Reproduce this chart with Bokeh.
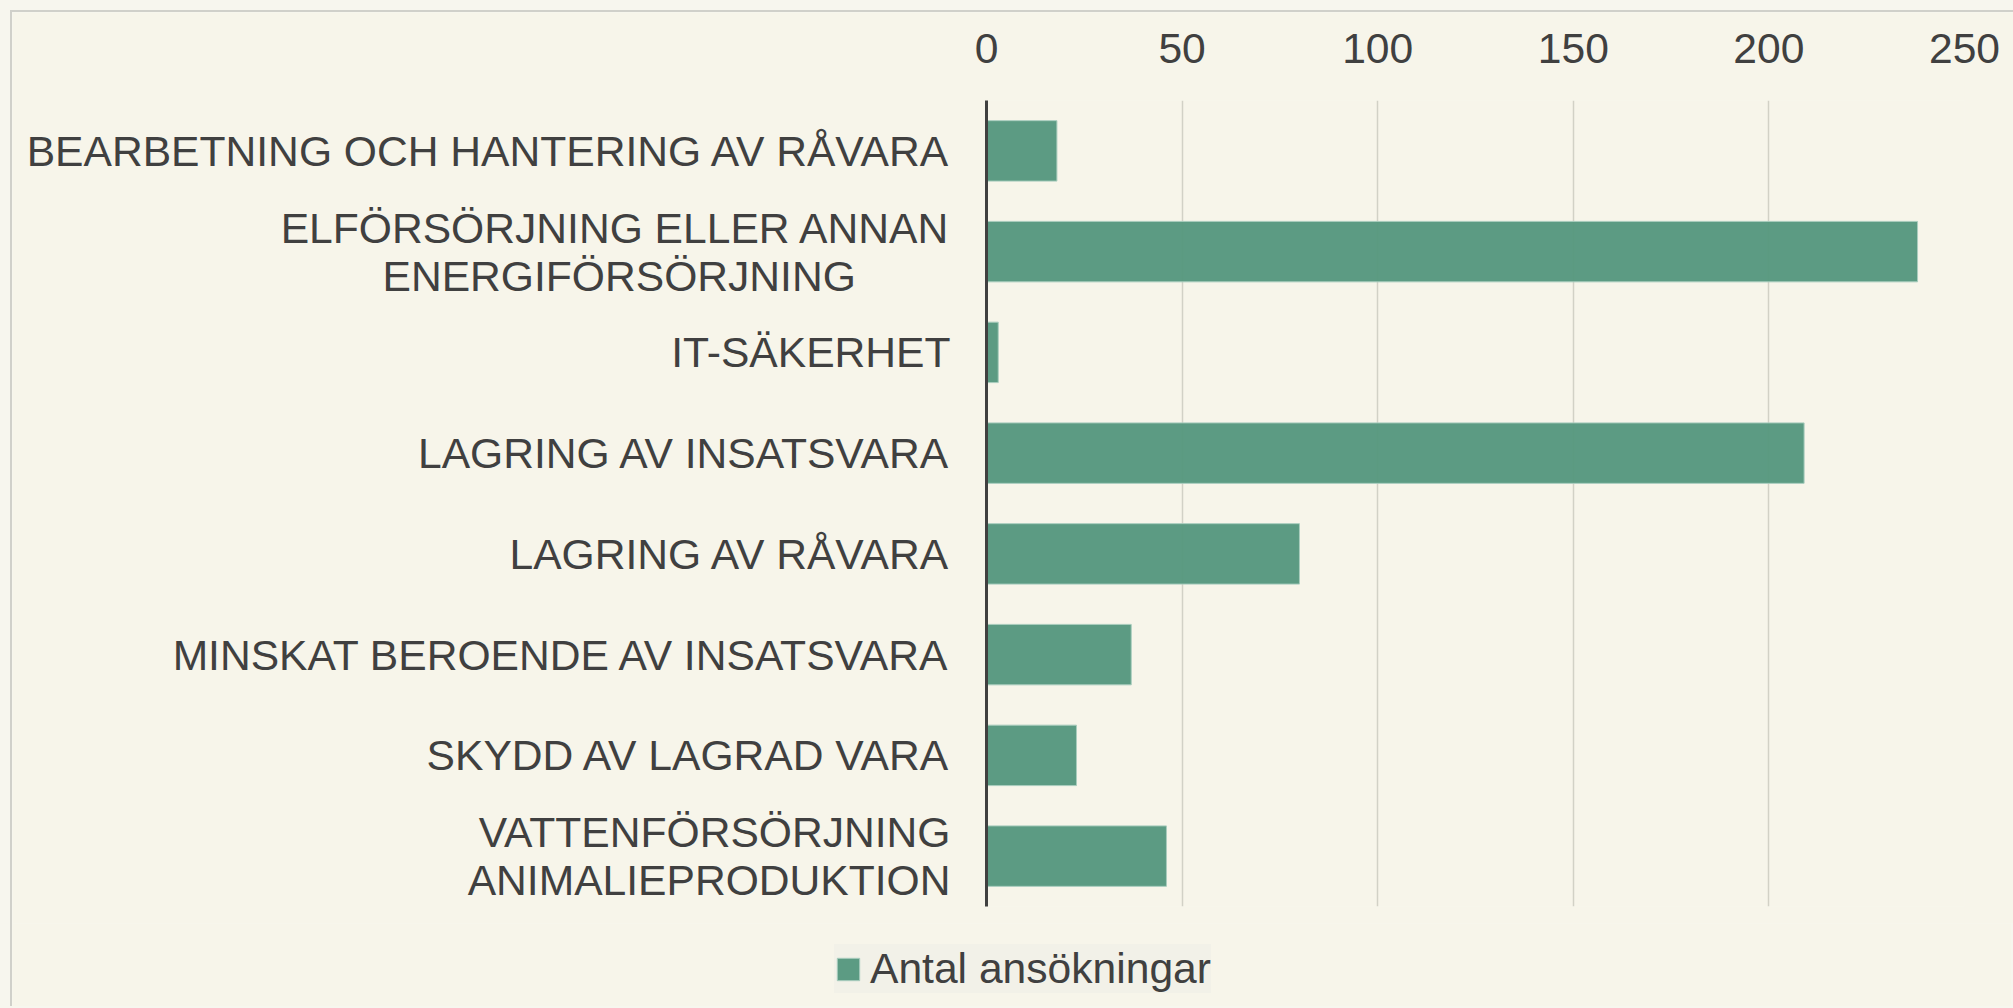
from bokeh.plotting import figure
from bokeh.models import Range1d, FactorRange, Legend, LegendItem, FixedTicker
from bokeh.layouts import column
from bokeh.embed import file_html
from bokeh.resources import INLINE

NB = "\u00a0"  # non-breaking spaces pad the short second line so the two lines look centred
categories = [
    "BEARBETNING OCH HANTERING AV RÅVARA",
    "ELFÖRSÖRJNING ELLER ANNAN\nENERGIFÖRSÖRJNING" + NB * 8,
    "IT-SÄKERHET",
    "LAGRING AV INSATSVARA",
    "LAGRING AV RÅVARA",
    "MINSKAT BEROENDE AV INSATSVARA",
    "SKYDD AV LAGRAD VARA",
    "VATTENFÖRSÖRJNING\nANIMALIEPRODUKTION",
]
values = [18, 238, 3, 209, 80, 37, 23, 46]
x_ticks = [0, 50, 100, 150, 200, 250]
series_name = "Antal ansökningar"

BG = "#F7F5EA"
TXT = "#404040"
FONT = "Liberation Sans"
EDGE = "2px solid #D0D0CA"

p = figure(
    width=2003, height=913,
    y_range=FactorRange(factors=categories[::-1]),
    x_range=Range1d(0, 250),
    x_axis_location="above",
    output_backend="svg", toolbar_location=None,
    min_border_left=974, min_border_right=51,
    min_border_top=88, min_border_bottom=19,
)
p.frame_align = False
p.margin = (10, 0, 0, 10)
p.styles = {"border-top": EDGE, "border-left": EDGE}
p.background_fill_color = BG
p.border_fill_color = BG
p.outline_line_color = None

bar_style = dict(fill_color="#57987F", fill_alpha=0.97, line_color="#A9CDBE", line_width=1)
r = p.hbar(y=categories, right=values, left=0, height=0.6, **bar_style)

p.xgrid.ticker = FixedTicker(ticks=x_ticks)
p.xgrid.grid_line_color = "#D2D1C6"
p.xgrid.grid_line_width = 1.5
p.ygrid.grid_line_color = None

xa = p.xaxis[0]
xa.ticker = FixedTicker(ticks=x_ticks)
xa.axis_line_color = None
xa.major_tick_line_color = None
xa.minor_tick_line_color = None
xa.major_label_text_font = FONT
xa.major_label_text_font_size = "42.6px"
xa.major_label_text_color = TXT
xa.major_label_standoff = 32

ya = p.yaxis[0]
ya.axis_line_color = TXT
ya.axis_line_width = 3
ya.major_tick_line_color = None
ya.minor_tick_line_color = None
ya.major_label_text_font = FONT
ya.major_label_text_font_size = "42.6px"
ya.major_label_text_color = TXT
ya.major_label_standoff = 30
ya.major_label_text_line_height = 1.0

# legend strip below the chart (its bar renderer lies outside the strip's view)
lp = figure(
    width=2001, height=83,
    x_range=Range1d(-2, -1), y_range=FactorRange(factors=categories[::-1]),
    x_axis_type=None, y_axis_type=None,
    output_backend="svg", toolbar_location=None,
    min_border_left=0, min_border_right=0, min_border_top=0, min_border_bottom=0,
)
lp.frame_align = False
lp.margin = (0, 0, 0, 10)
lp.styles = {"border-left": EDGE}
lp.background_fill_color = BG
lp.border_fill_color = BG
lp.outline_line_color = None
lp.xgrid.grid_line_color = None
lp.ygrid.grid_line_color = None
lr = lp.hbar(y=categories, right=values, left=0, height=0.6, **bar_style)

legend = Legend(
    items=[LegendItem(label=series_name, renderers=[lr])],
    location=(822, 13),
    orientation="horizontal",
    margin=0, padding=10,
    background_fill_color="#F2F1E8", background_fill_alpha=1,
    border_line_color=None,
    label_text_font=FONT, label_text_font_size="42.6px", label_text_color=TXT,
    glyph_width=28, glyph_height=28, label_standoff=8,
)
lp.add_layout(legend, "center")

page = column(p, lp, spacing=0, width=2013, height=1008,
              styles={"background-color": "#F7F6EE"})

open("out.html", "w").write(file_html(page, INLINE))
